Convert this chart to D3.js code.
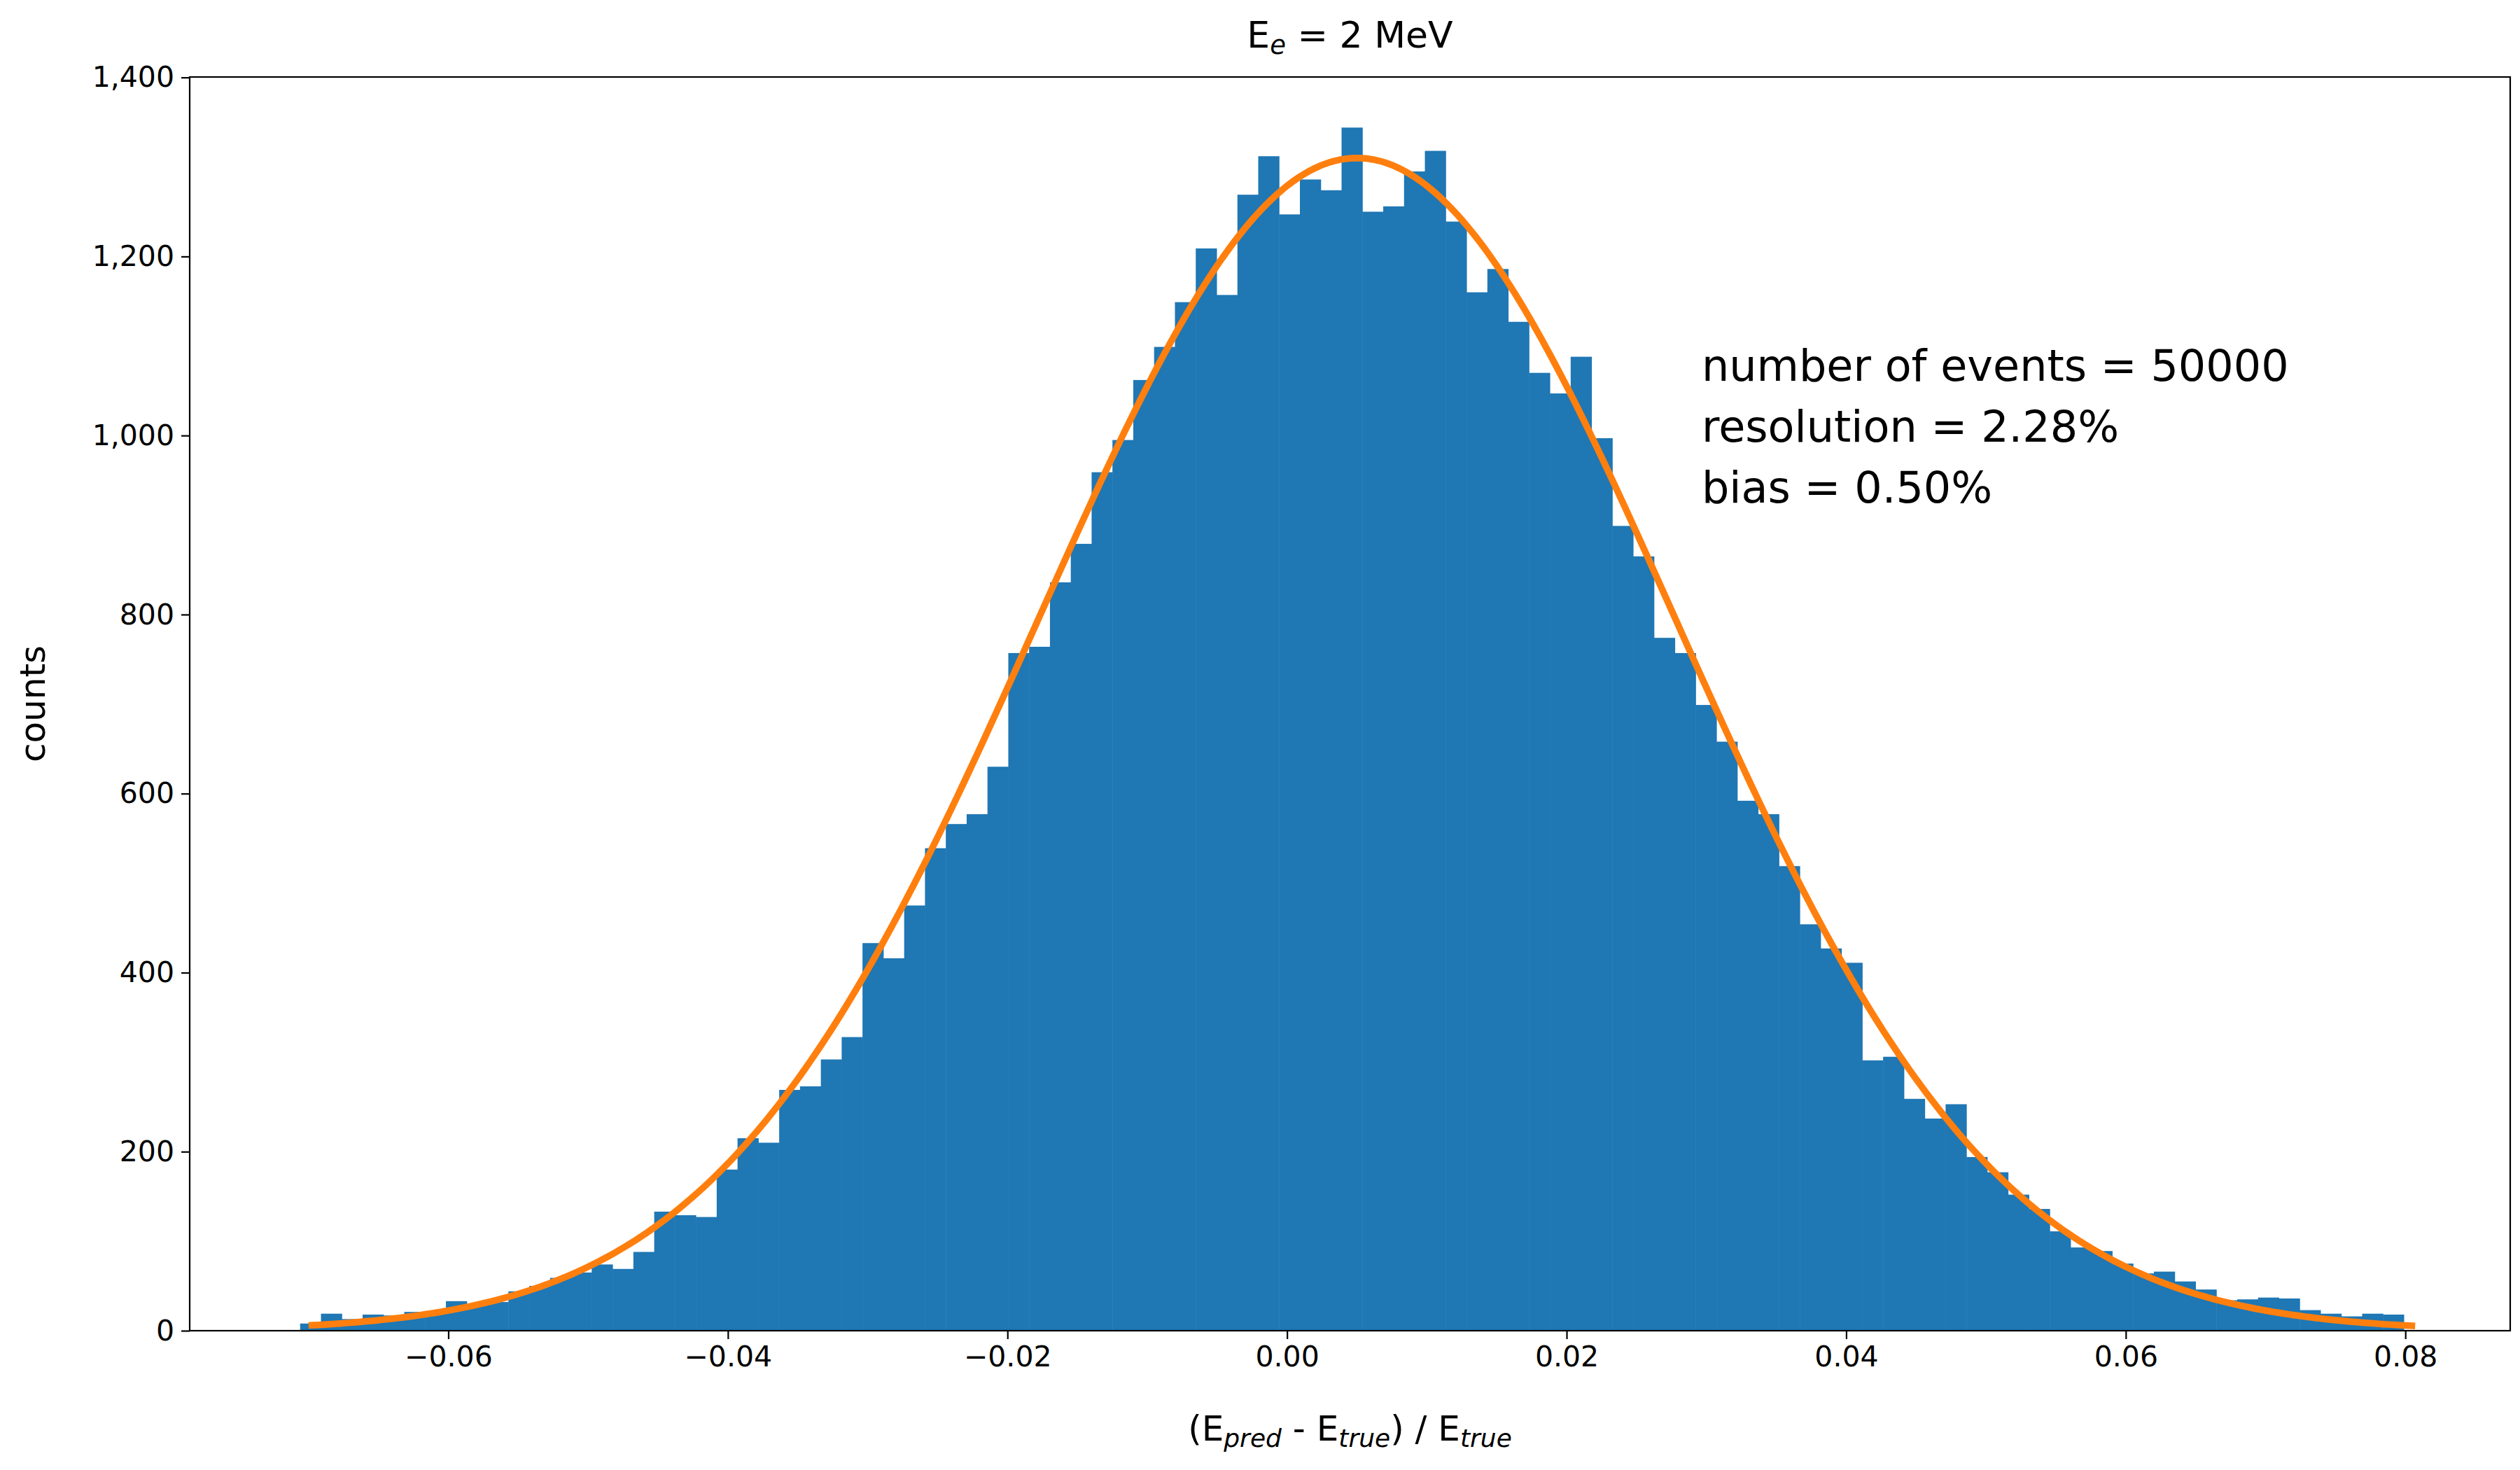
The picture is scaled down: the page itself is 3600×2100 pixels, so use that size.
<!DOCTYPE html>
<html><head><meta charset="utf-8">
<script src="https://cdn.jsdelivr.net/npm/d3@7"></script>
<style>body{margin:0;background:#fff}text{font-family:"DejaVu Sans",sans-serif}</style>
</head><body>
<svg id="c" width="3600" height="2100"></svg>
<script>
// histogram: 101 bins starting at binStart with width binWidth
const binStart = -0.0706;
const binWidth = 0.00149;
const counts = [8,19,13,18,17,21,22,33,29,32,44,50,59,65,74,69,88,133,129,127,
180,215,210,269,273,303,328,433,416,475,539,566,577,630,757,764,836,879,959,995,
1062,1099,1149,1209,1157,1269,1312,1247,1286,1274,1344,1250,1256,1295,1318,1239,1160,1186,1127,1070,
1047,1088,997,899,865,774,757,699,658,592,577,519,454,427,411,302,306,259,237,253,
194,177,152,136,111,93,89,75,64,66,55,46,34,35,37,36,23,19,16,19,18];
// gaussian fit parameters
const fitAmp = 1310, fitMean = 0.0050, fitSigma = 0.0228;
const fitRange = [-0.0700, 0.0807];
const xTicks = [-0.06,-0.04,-0.02,0.00,0.02,0.04,0.06,0.08];
const yTicks = [0,200,400,600,800,1000,1200,1400];
const annot = ["number of events = 50000","resolution = 2.28%","bias = 0.50%"];

const L=271,R=3586,T=110,B=1901;
const svg=d3.select("#c");
const x=d3.scaleLinear().domain([-0.0785,0.0875]).range([L,R]);
const y=d3.scaleLinear().domain([0,1400.5]).range([B,T]);

svg.append("g").selectAll("rect").data(counts).join("rect")
 .attr("x",(d,i)=>x(binStart+i*binWidth))
 .attr("width",(d,i)=>x(binStart+(i+1)*binWidth)-x(binStart+i*binWidth)+0.5)
 .attr("y",d=>y(d)).attr("height",d=>B-y(d)).attr("fill","#1f77b4");

const pts=d3.range(0,401).map(k=>{const xv=fitRange[0]+(fitRange[1]-fitRange[0])*k/400;
 return [xv, fitAmp*Math.exp(-((xv-fitMean)**2)/(2*fitSigma*fitSigma))];});
svg.append("path").datum(pts).attr("fill","none").attr("stroke","#ff7f0e").attr("stroke-width",9.5)
 .attr("d",d3.line().x(d=>x(d[0])).y(d=>y(d[1])));

const fmt=v=>(v<0?"\u2212":"")+Math.abs(v).toFixed(2);
const xa=svg.append("g").attr("transform",`translate(0,${B})`)
 .call(d3.axisBottom(x).tickValues(xTicks).tickFormat(fmt).tickSize(12).tickPadding(10));
const ya=svg.append("g").attr("transform",`translate(${L},0)`)
 .call(d3.axisLeft(y).tickValues(yTicks).tickSize(12).tickPadding(10));
[xa,ya].forEach(a=>{a.selectAll("text").attr("font-size",41).attr("fill","#000").attr("font-family","DejaVu Sans");
 a.selectAll("line").attr("stroke-width",2.2).attr("stroke","#000");a.select(".domain").remove();});
svg.append("rect").attr("x",L).attr("y",T).attr("width",R-L).attr("height",B-T)
 .attr("fill","none").attr("stroke","#000").attr("stroke-width",2.2);

// title
const t=svg.append("text").attr("x",(L+R)/2).attr("y",68).attr("text-anchor","middle").attr("font-size",52);
t.append("tspan").text("E");
t.append("tspan").attr("baseline-shift","-25%").attr("font-size",37).attr("font-style","italic").text("e");
t.append("tspan").text(" = 2 MeV");
// x label
const xl=svg.append("text").attr("x",(L+R)/2).attr("y",2058).attr("text-anchor","middle").attr("font-size",50);
xl.append("tspan").text("(E");
xl.append("tspan").attr("baseline-shift","-25%").attr("font-size",36).attr("font-style","italic").text("pred");
xl.append("tspan").text(" - E");
xl.append("tspan").attr("baseline-shift","-25%").attr("font-size",36).attr("font-style","italic").text("true");
xl.append("tspan").text(") / E");
xl.append("tspan").attr("baseline-shift","-25%").attr("font-size",36).attr("font-style","italic").text("true");
// y label
svg.append("text").attr("transform",`translate(64,${(T+B)/2}) rotate(-90)`).attr("text-anchor","middle")
 .attr("font-size",50).text("counts");
// annotation
svg.append("g").selectAll("text").data(annot).join("text").attr("x",2431).attr("y",(d,i)=>544+i*87)
 .attr("font-size",62).text(d=>d);
</script></body></html>
